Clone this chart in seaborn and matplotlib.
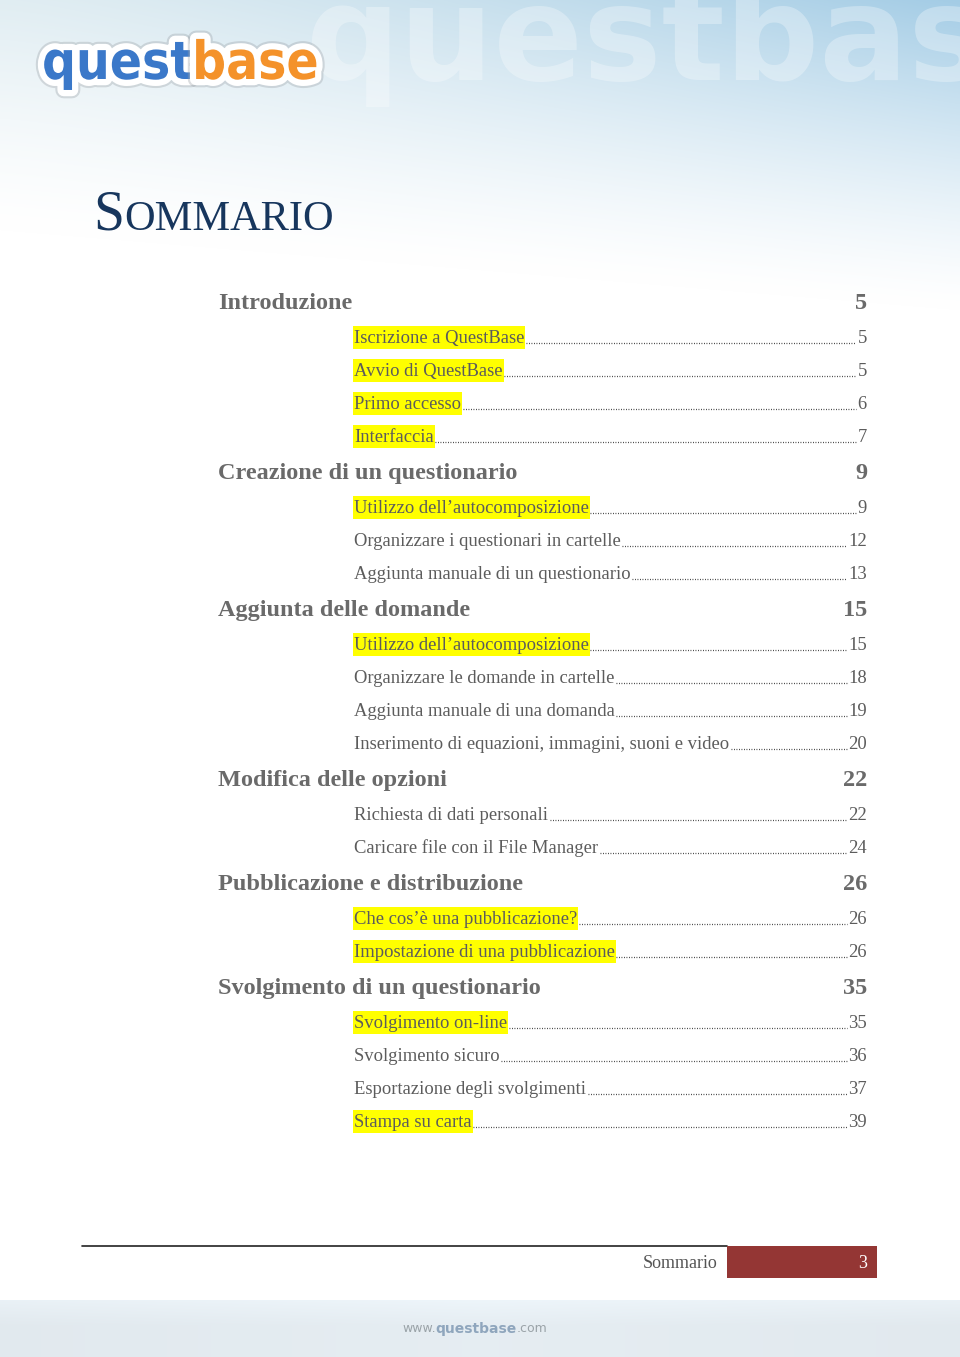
import numpy as np
import matplotlib
matplotlib.use("Agg")
import matplotlib.pyplot as plt
import matplotlib.patheffects as pe
from matplotlib.patches import Rectangle
import seaborn as sns

# dati del sommario
sezioni = ["Introduzione", "Creazione di un questionario", "Aggiunta delle domande",
           "Modifica delle opzioni", "Pubblicazione e distribuzione",
           "Svolgimento di un questionario"]
pagine_sezioni = [5, 9, 15, 22, 26, 35]

voci = [
    "Iscrizione a QuestBase", "Avvio di QuestBase", "Primo accesso", "Interfaccia",
    "Utilizzo dell’autocomposizione", "Organizzare i questionari in cartelle",
    "Aggiunta manuale di un questionario",
    "Utilizzo dell’autocomposizione", "Organizzare le domande in cartelle",
    "Aggiunta manuale di una domanda", "Inserimento di equazioni, immagini, suoni e video",
    "Richiesta di dati personali", "Caricare file con il File Manager",
    "Che cos’è una pubblicazione?", "Impostazione di una pubblicazione",
    "Svolgimento on-line", "Svolgimento sicuro", "Esportazione degli svolgimenti",
    "Stampa su carta",
]
pagine_voci = [5, 5, 6, 7, 9, 12, 13, 15, 18, 19, 20, 22, 24, 26, 26, 35, 36, 37, 39]
sezione_voce = [0, 0, 0, 0, 1, 1, 1, 2, 2, 2, 2, 3, 3, 4, 4, 5, 5, 5, 5]
evidenziata = [1, 1, 1, 1, 1, 0, 0, 1, 0, 0, 0, 0, 0, 1, 1, 1, 0, 0, 1]

titolo = "Sommario"
numero_pagina = 3

sns.set_theme(style="white")
plt.rcParams['font.family'] = ['Liberation Serif', 'DejaVu Serif']

W, H = 960, 1357
fig = plt.figure(figsize=(W / 100, H / 100), dpi=100)
ax = fig.add_axes([0, 0, 1, 1])
ax.set_xlim(0, W)
ax.set_ylim(H, 0)
ax.axis('off')

# sfondo: sfumatura azzurra in alto e fascia in basso
yy, xx = np.mgrid[0:H, 0:W].astype(float)
fx = xx / W
c_sx = np.array([0.88, 0.93, 0.95])
c_dx = np.array([0.64, 0.80, 0.90])
col = c_sx * (1 - fx[..., None] ** 1.3) + c_dx * fx[..., None] ** 1.3
t = np.clip(1 - yy / (230 + 80 * fx), 0, 1) ** 1.3
img = np.ones((H, W, 3)) * (1 - t[..., None]) + col * t[..., None]
fascia = yy >= 1300
c_fascia = np.array([0.90, 0.93, 0.95]) - 0.03 * np.abs(fx - 0.5)[..., None] \
    + 0.03 * np.clip(1 - (yy - 1300) / 25, 0, 1)[..., None]
img[fascia] = np.clip(c_fascia[fascia], 0, 1)
ax.imshow(img, extent=(0, W, H, 0), zorder=0, aspect='auto')

# filigrana
ax.text(305, 80, "questbase", fontsize=95, fontweight='bold', family='DejaVu Sans',
        color='white', alpha=0.3, va='baseline', zorder=1)

# logo
bordo = [pe.Stroke(linewidth=12, foreground='#9aa0a6', alpha=0.35),
         pe.Stroke(linewidth=9, foreground='white'), pe.Normal()]
t_q = ax.text(42, 79, "quest", fontsize=38, fontweight='bold', family='DejaVu Sans',
              fontstretch='condensed', color='#3a78c9', va='baseline', zorder=3)
t_q.set_path_effects(bordo)
fig.canvas.draw()
renderer = fig.canvas.get_renderer()


def estensione(txt):
    bb = txt.get_window_extent(renderer)
    (x0, _), (x1, _) = ax.transData.inverted().transform([[bb.x0, bb.y0], [bb.x1, bb.y1]])
    return x0, x1


_, xq = estensione(t_q)
t_b = ax.text(xq - 1, 79, "base", fontsize=38, fontweight='bold', family='DejaVu Sans',
              fontstretch='condensed', color='#f4922a', va='baseline', zorder=3)
t_b.set_path_effects(bordo)

# titolo in maiuscoletto
navy = '#17365d'
t_s = ax.text(93, 230, titolo[0].upper(), fontsize=40, color=navy, va='baseline')
fig.canvas.draw()
_, xs = estensione(t_s)
ax.text(xs, 230, titolo[1:].upper(), fontsize=30.5, color=navy, va='baseline')

# voci del sommario
grigio_sez = '#6a6a6a'
grigio_voce = '#5c5c5c'
x_sez, x_voce, x_dx = 218, 354, 867

fig.canvas.draw()
y = 302
for i, s in enumerate(sezioni):
    ax.text(x_sez, y + 7, s, fontsize=17.5, fontweight='bold', color=grigio_sez,
            va='baseline', zorder=3)
    ax.text(x_dx, y + 7, str(pagine_sezioni[i]), fontsize=17.5, fontweight='bold',
            color=grigio_sez, va='baseline', ha='right', zorder=3)
    ye = y + 35
    for j in [k for k, v in enumerate(sezione_voce) if v == i]:
        tv = ax.text(x_voce, ye + 6, voci[j], fontsize=13.4, color=grigio_voce,
                     va='baseline', zorder=3)
        tp = ax.text(x_dx, ye + 6, str(pagine_voci[j]), fontsize=13.4, color=grigio_voce,
                     va='baseline', ha='right', zorder=3)
        a0, a1 = estensione(tv)
        p0, _ = estensione(tp)
        if evidenziata[j]:
            ax.add_patch(Rectangle((a0 - 1, ye - 11.5), a1 - a0 + 2, 23,
                                   facecolor='#ffff00', edgecolor='none', zorder=2))
        ax.plot([a1 + 1.5, p0 - 1.5], [ye + 6, ye + 6], color='#333333', lw=0.9,
                linestyle=(0, (0.7, 1.3)), zorder=3)
        ye += 33
    y = ye - 33 + 36

# piè di pagina
ax.plot([82, 727], [1246, 1246], color='#222222', lw=1.2, zorder=3)
ax.add_patch(Rectangle((727, 1246), 150, 32, facecolor='#943634', edgecolor='none', zorder=3))
ax.text(717, 1263, titolo, fontsize=13, color='#555555', ha='right', va='center', zorder=4)
ax.text(867, 1263, str(numero_pagina), fontsize=13, color='white', ha='right', va='center',
        zorder=4)

t_w = ax.text(402, 1329, "www.", fontsize=9, color='#9aa3a8', va='center',
              family='DejaVu Sans', zorder=3)
fig.canvas.draw()
_, xw = estensione(t_w)
t_qb = ax.text(xw, 1329, "questbase", fontsize=10, fontweight='bold', color='#8fa6bd',
               va='center', family='DejaVu Sans', zorder=3)
fig.canvas.draw()
_, xc = estensione(t_qb)
ax.text(xc, 1329, ".com", fontsize=9, color='#9aa3a8', va='center',
        family='DejaVu Sans', zorder=3)

fig.savefig("out.png", dpi=100)
